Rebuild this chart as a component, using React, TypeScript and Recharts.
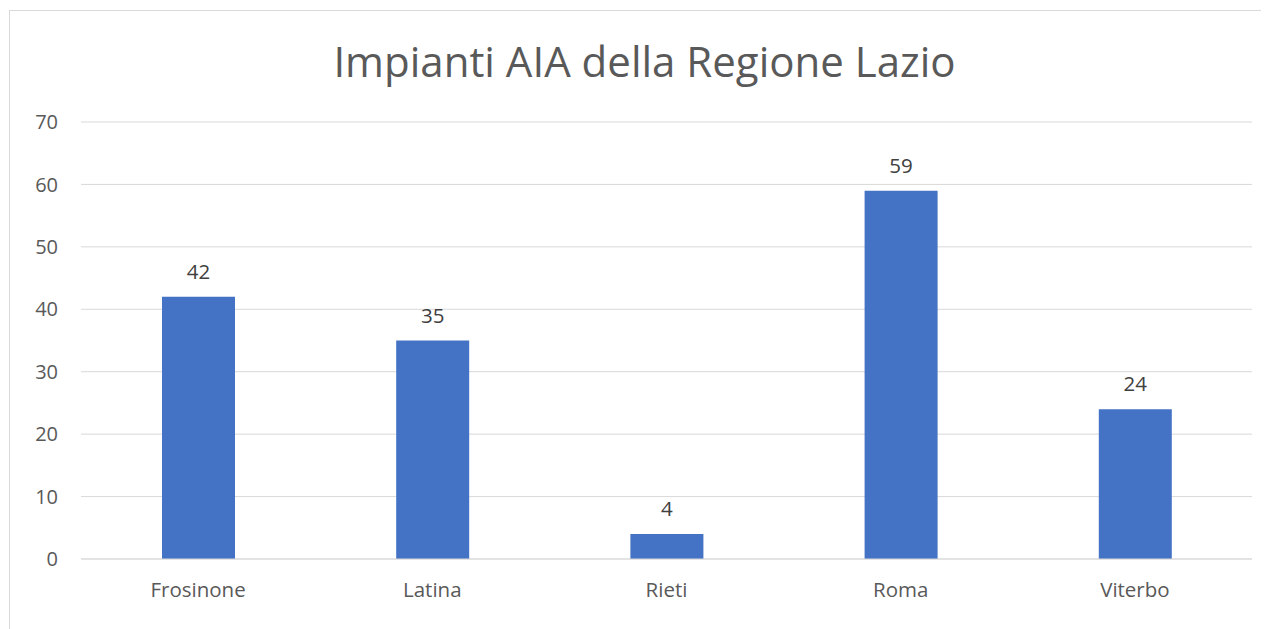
import { BarChart, Bar, XAxis, YAxis, CartesianGrid, LabelList } from "recharts";

const categories = ["Frosinone", "Latina", "Rieti", "Roma", "Viterbo"];
const impianti = [42, 35, 4, 59, 24];
const yTicks = [0, 10, 20, 30, 40, 50, 60, 70];

const FONT = "'Open Sans', 'Noto Sans', sans-serif";

export default function App() {
  const data = categories.map((c, i) => ({ name: c, value: impianti[i] }));

  return (
    <div style={{ position: "relative", width: 1261, height: 621, overflow: "hidden", fontFamily: FONT }}>
      <div
        style={{
          position: "absolute",
          left: 1,
          top: 2,
          width: 1300,
          height: 700,
          border: "1px solid #d9d9d9",
          background: "#fff",
        }}
      >
        <svg style={{ position: "absolute", left: 0, top: 0 }} width={1260} height={100}>
          <text x={634.5} y={66} textAnchor="middle" fontSize={42} fill="#595959" fontFamily={FONT}>
            Impianti AIA della Regione Lazio
          </text>
        </svg>
        <BarChart
          width={1250}
          height={610}
          data={data}
          margin={{ top: 111, right: 8, left: 0, bottom: 22 }}
        >
          <CartesianGrid vertical={false} stroke="#d9d9d9" />
          <XAxis
            dataKey="name"
            height={40}
            tickLine={false}
            axisLine={{ stroke: "#d9d9d9" }}
            tickSize={0}
            tickMargin={23}
            tick={{ fill: "#595959", fontSize: 20.5, fontFamily: FONT }}
          />
          <YAxis
            width={71}
            domain={[0, 70]}
            ticks={yTicks}
            tickLine={false}
            axisLine={false}
            tickSize={0}
            tickMargin={23}
            tick={{ fill: "#595959", fontSize: 20, fontFamily: FONT }}
          />
          <Bar dataKey="value" fill="#4472C4" barSize={73} isAnimationActive={false}>
            <LabelList dataKey="value" position="top" offset={18} fill="#404040" fontSize={20.5} fontFamily={FONT} />
          </Bar>
        </BarChart>
      </div>
    </div>
  );
}
